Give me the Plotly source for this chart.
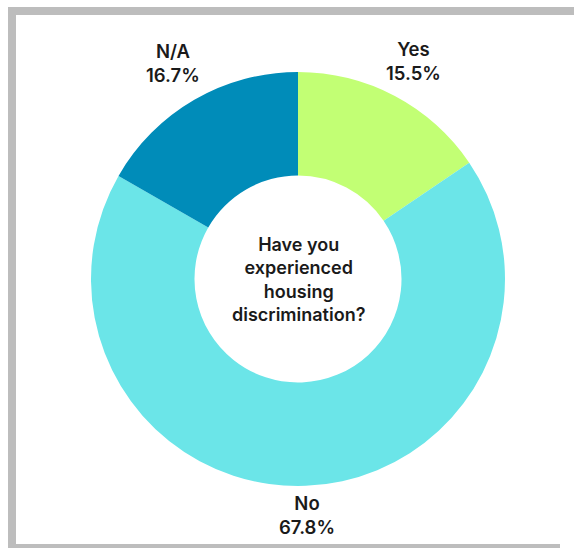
import math
import plotly.graph_objects as go

# Survey responses
labels = ["Yes", "No", "N/A"]
shares = [15.5, 67.8, 16.7]
colors = ["#C2FF74", "#6BE5E8", "#008CB9"]
question = "Have you<br>experienced<br>housing<br>discrimination?"

W, H = 574, 548
cx, cy, r = 298, 279, 207          # donut centre and outer radius (px)
label_radius = [247, 236, 249]     # distance of each slice label from the centre (px)
FONT = "Inter"
INK = "#1a1a1a"


def px_to_paper(x, y):
    return x / W, 1 - y / H


fig = go.Figure(
    go.Pie(
        labels=labels,
        values=shares,
        sort=False,
        direction="clockwise",
        rotation=0,
        hole=0.5,
        marker=dict(colors=colors, line=dict(width=0)),
        textinfo="none",
        hoverinfo="label+percent",
        showlegend=False,
        domain=dict(
            x=[(cx - r) / W, (cx + r) / W],
            y=[1 - (cy + r) / H, 1 - (cy - r) / H],
        ),
    )
)

# slice labels placed outside the ring at each slice's mid-angle
total = sum(shares)
start = 0.0
for lab, val, rad in zip(labels, shares, label_radius):
    mid = (start + val / 2) / total * 2 * math.pi
    start += val
    lx, ly = px_to_paper(cx + rad * math.sin(mid), cy - rad * math.cos(mid))
    fig.add_annotation(
        text=f"{lab}<br>{val / total:.1%}",
        x=lx, y=ly, xref="paper", yref="paper",
        xanchor="center", yanchor="middle",
        showarrow=False, align="center",
        font=dict(family=FONT, size=18.5, color=INK, weight=600),
    )

# question in the hole
qx, qy = px_to_paper(cx, cy)
fig.add_annotation(
    text=question, x=qx, y=qy, xref="paper", yref="paper",
    xanchor="center", yanchor="middle",
    showarrow=False, align="center",
    font=dict(family=FONT, size=18, color=INK, weight=600),
)

# grey card frame (top, left and bottom edges)
frame = dict(color="#BDBDBD", width=8)
for x0, y0, x1, y1 in [(8, 11, 574, 11), (12, 7, 12, 548), (8, 548, 574, 548)]:
    a0, b0 = px_to_paper(x0, y0)
    a1, b1 = px_to_paper(x1, y1)
    fig.add_shape(type="line", xref="paper", yref="paper",
                  x0=a0, y0=b0, x1=a1, y1=b1, line=frame, layer="below")

# keep the card open on its right-hand side
fig.add_shape(type="rect", xref="paper", yref="paper",
              x0=560 / W, x1=1, y0=0.0, y1=1 - 15 / H,
              line=dict(width=0), fillcolor="white", layer="above")

fig.update_layout(
    width=W, height=H,
    margin=dict(l=0, r=0, t=0, b=0),
    paper_bgcolor="white",
    plot_bgcolor="white",
)

fig.write_html("out.html")
